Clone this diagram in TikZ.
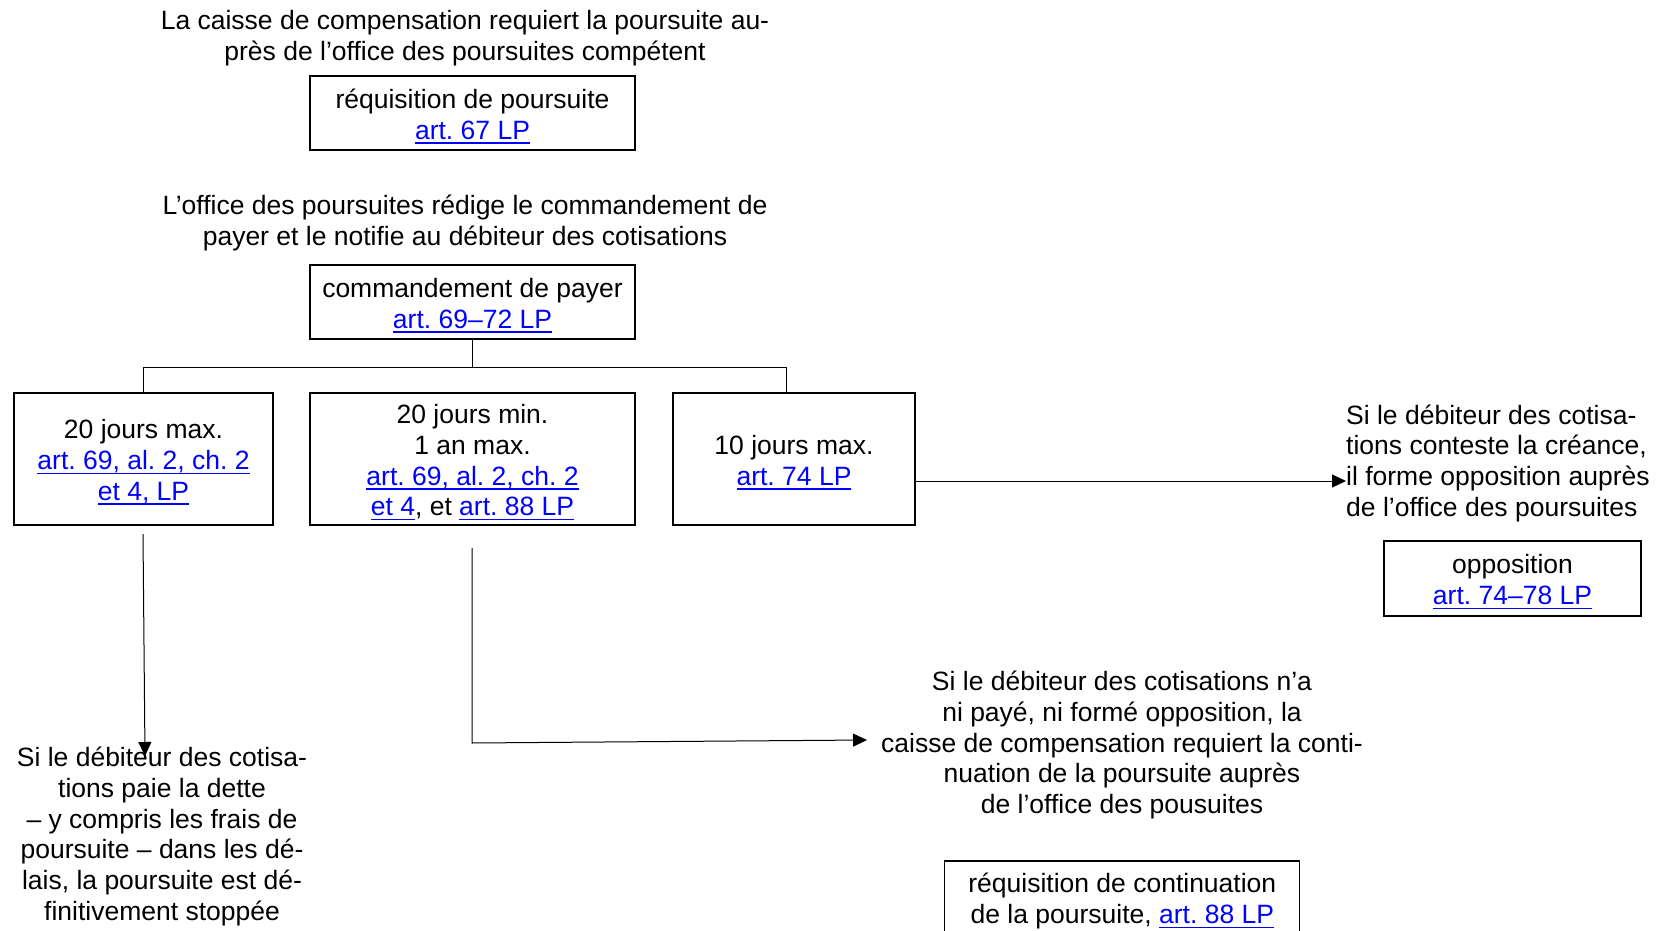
\documentclass[tikz,border=0pt]{standalone}
\usepackage{fontspec}
\setmainfont{Liberation Sans}
\usetikzlibrary{arrows.meta}
\definecolor{linkblue}{RGB}{0,0,255}
\frenchspacing
\newsavebox\lnkbox
\newcommand\lnk[1]{{\color{linkblue}\sbox\lnkbox{#1}\rlap{\rule[-4.5pt]{\wd\lnkbox}{1.6pt}}\usebox\lnkbox}}
\newcommand\fl{\rule{0pt}{26pt}}
\begin{document}
\begin{tikzpicture}[x=1pt,y=-1pt,
  txt/.style={font=\fontsize{26.5}{30.8}\selectfont\frenchspacing, align=center, inner sep=0pt,
    execute at end node={\rule[-1.7pt]{0pt}{1.7pt}}},
  box/.style={txt, draw, line width=1.2pt},
  conn/.style={line width=1pt},
  arr/.style={line width=1pt, -{Triangle[length=14pt,width=13pt]}}]
\useasboundingbox (0,0) rectangle (1657,931);
\clip (0,0) rectangle (1657,931);

\node[txt] (t1) at (465,35) {\fl La caisse de compensation requiert la poursuite au-\\près de l’office des poursuites compétent};
\node[box, minimum width=325pt, minimum height=74pt] (b1) at (472.5,113) {\fl réquisition de poursuite\\\lnk{art. 67 LP}};
\node[txt] (t2) at (465,219.5) {\fl L’office des poursuites rédige le commandement de\\payer et le notifie au débiteur des cotisations};
\node[box, minimum width=325pt, minimum height=74pt] (b2) at (472.5,302) {\fl commandement de payer\\\lnk{art. 69–72 LP}};

\node[box, minimum width=259pt, minimum height=132pt] (bA) at (143.5,459) {\fl 20 jours max.\\\lnk{art. 69, al. 2, ch. 2}\\\lnk{et 4, LP}};
\node[box, minimum width=325pt, minimum height=132pt] (bB) at (472.5,459) {\fl 20 jours min.\\1 an max.\\\lnk{art. 69, al. 2, ch. 2}\\\lnk{et 4}, et \lnk{art. 88 LP}};
\node[box, minimum width=242pt, minimum height=132pt] (bC) at (794,459) {\fl 10 jours max.\\\lnk{art. 74 LP}};

\node[txt, align=left, anchor=west] (t3) at (1346,460) {\fl Si le débiteur des cotisa-\\tions conteste la créance,\\il forme opposition auprès\\de l’office des poursuites};
\node[box, minimum width=257pt, minimum height=75pt] (bO) at (1512.5,578.5) {\fl opposition\\\lnk{art. 74–78 LP}};

\node[txt] (t4) at (162,833.3) {\fl Si le débiteur des cotisa-\\tions paie la dette\\– y compris les frais de\\poursuite – dans les dé-\\lais, la poursuite est dé-\\finitivement stoppée};
\node[txt] (t5) at (1122,741.9) {\fl Si le débiteur des cotisations n’a\\ni payé, ni formé opposition, la\\caisse de compensation requiert la conti-\\nuation de la poursuite auprès\\de l’office des pousuites};
\node[box, minimum width=355pt, minimum height=74pt] (bD) at (1122.3,898) {\fl réquisition de continuation\\de la poursuite, \lnk{art. 88 LP}};

\coordinate (busL) at (143,367);
\coordinate (busR) at (786,367);
\draw[conn] (b2.south) -- (b2.south |- busL);
\draw[conn] (bA.north -| busL) -- (busL) -- (busR) -- (busR |- bC.north);

\coordinate (yR) at (0,481);
\draw[arr] (bC.east |- yR) -- (t3.west |- yR);

\coordinate (aS) at (143,534);
\coordinate (aE) at (145,756);
\draw[arr] (aS) -- (aE);

\coordinate (bS) at (472,548);
\coordinate (bK) at (472,743);
\coordinate (bE) at (867,740);
\draw[arr] (bS) -- (bK) -- (bE);
\end{tikzpicture}
\end{document}
